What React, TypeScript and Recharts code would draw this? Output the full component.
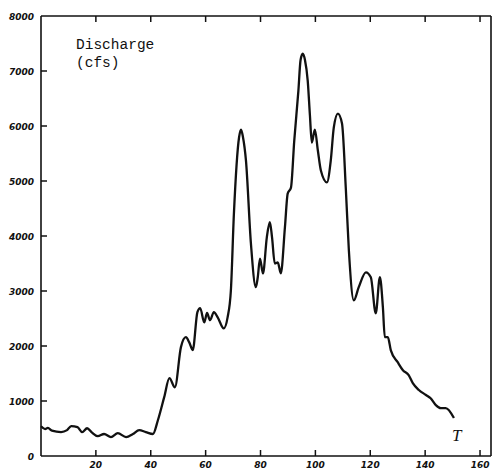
import { LineChart, Line, XAxis, YAxis } from 'recharts';

const times = [
  0, 1.5, 2.5, 4, 7.3, 9.5, 11, 13.3, 15, 16.8, 18.5, 20.7, 23, 25.5, 28, 31, 33.5, 35.8, 38.2, 40.8,
  42.6, 44.9, 46.8, 48.8, 51, 52.8, 54, 55.3, 57, 58, 59.5, 60.5, 61.6, 63, 64.4, 66.6, 68, 69.2, 70.3,
  72.2, 72.9, 73.6, 74.7, 76.5, 78.3, 79, 79.8, 80.9, 82.3, 83.4, 84.2, 85.2, 86.3, 87.4, 88.9, 89.9,
  91.1, 92.3, 93.8, 94.6, 95.4, 96.2, 97.2, 98, 98.7, 99.8, 100.9, 102, 104.2, 105.6, 106.7, 108.2,
  109.7, 111.1, 112.2, 114, 115.8, 118.4, 120.2, 122, 123.5, 124.6, 125.3, 126.4, 127.5, 130, 131.9,
  134, 135.5, 137.7, 140.3, 142, 143.9, 145.7, 147.5, 150.5
];
const discharge = [
  540, 490, 510, 460, 435, 470, 545, 525, 435, 505, 430, 360, 400, 345, 415, 345, 400, 470, 435, 400,
  650, 1070, 1415, 1250, 1980, 2160, 2070, 1925, 2615, 2690, 2430, 2600, 2470, 2615, 2520, 2320, 2520, 3010, 4400,
  5800, 5935, 5800, 5370, 3865, 3070, 3250, 3590, 3320, 3975, 4250, 3975, 3500, 3520, 3320, 4160, 4770,
  4880, 5735, 6640, 7200, 7315, 7200, 6825, 6200, 5700, 5935, 5555, 5190, 4975, 5370, 5970, 6225,
  6045, 4850, 3740, 2830, 3070, 3340, 3250, 2595, 3250, 2705, 2160, 2160, 1920, 1705, 1560,
  1470, 1325, 1200, 1110, 1050, 925, 870, 870, 690
];
const xTicks = [20, 40, 60, 80, 100, 120, 140, 160];
const yTicks = [0, 1000, 2000, 3000, 4000, 5000, 6000, 7000, 8000];

const data = times.map((t, i) => ({ t, q: discharge[i] }));

const numFont = {
  fontFamily: 'DejaVu Sans',
  fontStyle: 'italic',
  fontWeight: 'bold',
  fontSize: 9,
  fill: '#111'
} as const;

const BottomTick = ({ x, y, payload }: any) => (
  <g>
    <line x1={x} y1={y} x2={x} y2={y - 6} stroke="#111" strokeWidth={1.5} />
    <text x={x} y={y + 12} textAnchor="middle" {...numFont}>{payload.value}</text>
  </g>
);

const TopTick = ({ x, y }: any) => (
  <line x1={x} y1={y} x2={x} y2={y + 6} stroke="#111" strokeWidth={1.5} />
);

const LeftTick = ({ x, y, payload }: any) => (
  <g>
    {payload.value > 0 && payload.value < 8000 && (
      <line x1={x} y1={y} x2={x + 6} y2={y} stroke="#111" strokeWidth={1.5} />
    )}
    <text x={x - 7} y={y + 3.5} textAnchor="end" {...numFont}>{payload.value}</text>
  </g>
);

const RightTick = ({ x, y, payload }: any) =>
  payload.value > 0 && payload.value < 8000 ? (
    <line x1={x} y1={y} x2={x - 6} y2={y} stroke="#111" strokeWidth={1.5} />
  ) : null;

export default function App() {
  return (
    <div style={{ position: 'absolute', left: 0, top: 0, background: '#fff' }}>
      <LineChart width={492} height={472} data={data} margin={{ top: 0, right: 0, bottom: 0, left: 0 }}>
        <XAxis
          dataKey="t"
          type="number"
          domain={[0, 164]}
          ticks={xTicks}
          interval={0}
          height={16}
          tickSize={0}
          tickMargin={0}
          tickLine={false}
          axisLine={{ stroke: '#111', strokeWidth: 1.6 }}
          tick={<BottomTick />}
        />
        <XAxis
          xAxisId="top"
          orientation="top"
          dataKey="t"
          type="number"
          domain={[0, 164]}
          ticks={xTicks}
          interval={0}
          height={16}
          tickSize={0}
          tickMargin={0}
          tickLine={false}
          axisLine={{ stroke: '#111', strokeWidth: 1.6 }}
          tick={<TopTick />}
        />
        <YAxis
          type="number"
          domain={[0, 8000]}
          ticks={yTicks}
          interval={0}
          width={41}
          tickSize={0}
          tickMargin={0}
          tickLine={false}
          axisLine={{ stroke: '#111', strokeWidth: 1.6 }}
          tick={<LeftTick />}
        />
        <YAxis
          yAxisId="right"
          orientation="right"
          type="number"
          domain={[0, 8000]}
          ticks={yTicks}
          interval={0}
          width={1}
          tickSize={0}
          tickMargin={0}
          tickLine={false}
          axisLine={{ stroke: '#111', strokeWidth: 1.6 }}
          tick={<RightTick />}
        />
        <Line
          type="monotone"
          dataKey="q"
          stroke="#111"
          strokeWidth={2.3}
          dot={false}
          isAnimationActive={false}
        />
        <text x={76} y={49} fontFamily="Liberation Mono" fontSize={14.5} fill="#111">Discharge</text>
        <text x={76} y={67} fontFamily="Liberation Mono" fontSize={14.5} fill="#111">(cfs)</text>
        <text x={452} y={441} fontFamily="Liberation Serif" fontStyle="italic" fontSize={17} fill="#111">T</text>
      </LineChart>
    </div>
  );
}
